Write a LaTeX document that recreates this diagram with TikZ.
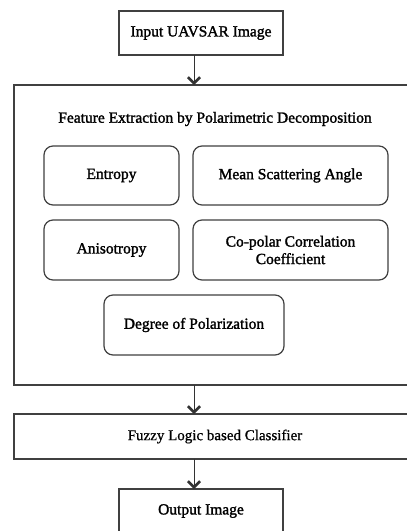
\documentclass[tikz,border=0pt]{standalone}
\usepackage{fontspec}
\setmainfont{Liberation Serif}
\newfontfamily\heavyfont{Liberation Serif}[FakeBold=1.6]
\newfontfamily\lightfont{Liberation Serif}[FakeBold=0.7]
\usetikzlibrary{arrows.meta}
\tikzset{
  flowbox/.style={draw=black!75, line width=1.2pt, fill=white, inner sep=0pt, outer sep=0pt},
  featbox/.style={flowbox, rounded corners=9pt, align=center, font=\heavyfont\fontsize{15.5}{17.5}\selectfont},
  flowarrow/.style={draw=black!80, line width=0.9pt, -{Straight Barb[length=6pt,width=12pt,line width=2.6pt]}},
}
\begin{document}
\begin{tikzpicture}[x=1pt, y=-1pt, font=\heavyfont\fontsize{15.5}{17}\selectfont]
     \clip (0,0) rectangle (407,531);
     \useasboundingbox (0,0) rectangle (407,531);
     \coordinate (axis) at (194,0);
     % input and feature block
     \node[flowbox, minimum width=164pt, minimum height=44pt] (inp) at (201,33) {Input UAVSAR Image};
     \node[flowbox, minimum width=402pt, minimum height=300pt] (fext) at (215,235) {};
     \node (ttl) at (215,119) {Feature Extraction by Polarimetric Decomposition};
     \node[featbox, minimum width=135pt, minimum height=59pt] (ent) at (111.5,175.5) {Entropy};
     \node[featbox, minimum width=195pt, minimum height=59pt] (msa) at (290.5,175.5) {Mean Scattering Angle};
     \node[featbox, minimum width=135pt, minimum height=60pt] (ani) at (111.5,250) {Anisotropy};
     \node[featbox, minimum width=195pt, minimum height=60pt] (ccc) at (290.5,250) {Co-polar Correlation\\Coefficient};
     \node[featbox, minimum width=180pt, minimum height=60pt] (dop) at (194,325) {Degree of Polarization};
     % classifier and output
     \node[flowbox, minimum width=402pt, minimum height=45pt, font=\lightfont\fontsize{15}{17}\selectfont] (fuz) at (215,436.5) {Fuzzy Logic based Classifier};
     \node[flowbox, minimum width=164pt, minimum height=44pt] (out) at (201,511) {Output Image};
     \draw[flowarrow] (inp.south -| axis) -- (fext.north -| axis);
     \draw[flowarrow] (fext.south -| axis) -- (fuz.north -| axis);
     \draw[flowarrow] (fuz.south -| axis) -- (out.north -| axis);
\end{tikzpicture}
\end{document}
